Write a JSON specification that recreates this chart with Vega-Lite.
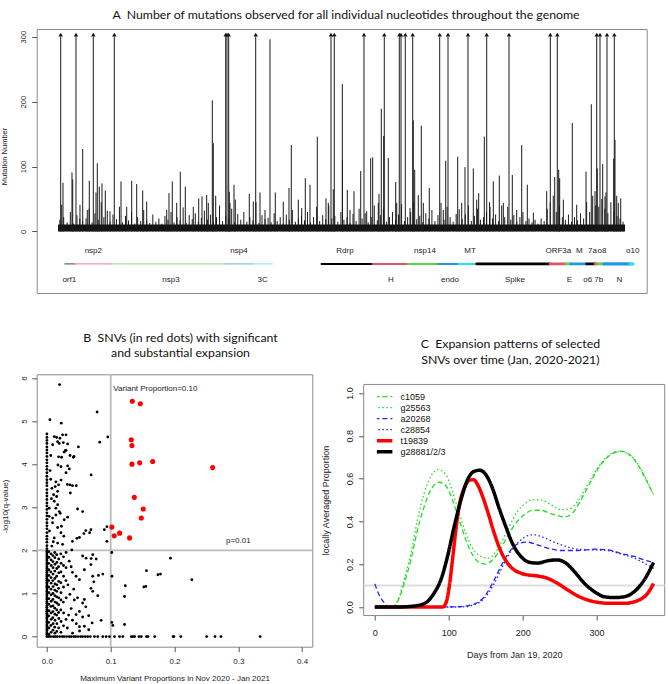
{
"$schema":"https://vega.github.io/schema/vega-lite/v6.json",
"autosize":{"type":"none"},
"padding":{"left":36.7,"top":29,"right":632.3,"bottom":655},
"background":"white",
"bounds":"flush",
"spacing":81.3,
"resolve":{"scale":{"color":"independent","strokeWidth":"independent","strokeDash":"independent"},"legend":{"color":"independent","strokeWidth":"independent","strokeDash":"independent"}},
"datasets":{
"mut":[
{"p":142,"n":300},{"p":949,"n":300},{"p":1862,"n":300},{"p":2969,"n":300},{"p":8845,"n":300},{"p":8913,"n":300},{"p":9003,"n":300},{"p":10427,"n":300},{"p":14398,"n":300},{"p":14572,"n":300},{"p":16138,"n":300},{"p":17209,"n":300},{"p":18000,"n":300},{"p":18090,"n":300},{"p":18317,"n":300},{"p":18707,"n":300},{"p":20131,"n":300},{"p":20569,"n":300},{"p":21623,"n":300},{"p":22610,"n":300},{"p":23786,"n":300},{"p":25964,"n":300},{"p":26333,"n":300},{"p":28411,"n":300},{"p":28585,"n":300},{"p":28954,"n":300},{"p":29339,"n":300},
{"p":264,"n":75},{"p":738,"n":91},{"p":775,"n":80},{"p":1303,"n":127},{"p":1651,"n":78},{"p":2073,"n":105},{"p":2178,"n":69},{"p":2321,"n":74},{"p":2495,"n":63},{"p":2004,"n":60},{"p":3323,"n":77},{"p":3887,"n":78},{"p":4151,"n":73},{"p":4467,"n":63},{"p":5854,"n":59},{"p":6028,"n":77},{"p":6450,"n":92},{"p":6714,"n":69},{"p":7421,"n":51},{"p":7595,"n":54},{"p":7842,"n":56},{"p":8138,"n":202},{"p":8191,"n":136},{"p":8317,"n":55},{"p":9034,"n":61},{"p":9282,"n":72},{"p":9351,"n":49},{"p":10089,"n":58},{"p":10653,"n":60},{"p":11181,"n":296},{"p":11460,"n":60},{"p":12304,"n":133},{"p":12183,"n":67},{"p":12674,"n":49},{"p":13043,"n":82},{"p":13290,"n":72},{"p":13675,"n":146},{"p":14134,"n":51},{"p":14519,"n":65},{"p":14994,"n":227},{"p":15004,"n":110},{"p":15258,"n":64},{"p":15611,"n":62},{"p":15965,"n":93},{"p":16492,"n":113},{"p":16597,"n":114},{"p":16930,"n":58},{"p":17051,"n":189},{"p":17177,"n":147},{"p":17420,"n":113},{"p":17810,"n":76},{"p":18738,"n":171},{"p":18812,"n":95},{"p":19002,"n":56},{"p":19160,"n":163},{"p":19582,"n":67},{"p":20447,"n":109},{"p":21080,"n":115},{"p":21465,"n":99},{"p":21903,"n":97},{"p":22187,"n":59},{"p":22483,"n":146},{"p":22958,"n":77},{"p":23274,"n":86},{"p":23960,"n":87},{"p":24456,"n":133},{"p":24751,"n":72},{"p":26196,"n":84},{"p":26459,"n":82},{"p":26407,"n":95},{"p":27124,"n":167},{"p":27847,"n":92},{"p":28126,"n":196},{"p":28442,"n":97},{"p":28727,"n":104},{"p":28901,"n":60},{"p":29307,"n":112},{"p":29376,"n":141},{"p":29677,"n":51},{"p":29466,"n":55},
{"p":195,"n":41},{"p":1160,"n":41},{"p":1545,"n":33},{"p":2742,"n":31},{"p":3623,"n":38},{"p":4678,"n":46},{"p":5733,"n":33},{"p":6260,"n":44},{"p":7136,"n":38},{"p":7927,"n":44},{"p":9071,"n":44},{"p":10301,"n":46},{"p":10917,"n":33},{"p":11882,"n":46},{"p":12853,"n":36},{"p":14256,"n":44},{"p":15400,"n":33},{"p":16280,"n":31},{"p":16893,"n":44},{"p":17863,"n":44},{"p":18565,"n":36},{"p":19266,"n":44},{"p":20321,"n":33},{"p":21291,"n":44},{"p":22082,"n":49},{"p":22784,"n":38},{"p":23486,"n":44},{"p":24192,"n":33},{"p":25070,"n":29},{"p":25774,"n":62},{"p":26650,"n":49},{"p":27356,"n":41},{"p":28321,"n":62},{"p":28849,"n":54},{"p":29550,"n":44},
{"p":100,"n":18},{"p":300,"n":22},{"p":480,"n":14},{"p":650,"n":30},{"p":820,"n":12},{"p":1000,"n":25},{"p":1150,"n":20},{"p":1300,"n":16},{"p":1480,"n":20},{"p":1640,"n":35},{"p":1800,"n":14},{"p":1950,"n":28},{"p":2120,"n":18},{"p":2280,"n":45},{"p":2420,"n":22},{"p":2600,"n":32},{"p":2750,"n":15},{"p":2900,"n":26},{"p":3080,"n":19},{"p":3240,"n":38},{"p":3400,"n":14},{"p":3560,"n":24},{"p":3720,"n":17},{"p":3880,"n":30},{"p":4050,"n":12},{"p":4200,"n":22},{"p":4360,"n":16},{"p":4520,"n":33},{"p":4680,"n":18},{"p":4840,"n":13},{"p":5000,"n":26},{"p":5160,"n":15},{"p":5320,"n":20},{"p":5480,"n":12},{"p":5640,"n":24},{"p":5800,"n":18},{"p":5960,"n":30},{"p":6120,"n":14},{"p":6280,"n":22},{"p":6440,"n":17},{"p":6600,"n":37},{"p":6760,"n":13},{"p":6920,"n":25},{"p":7080,"n":19},{"p":7240,"n":28},{"p":7400,"n":15},{"p":7560,"n":21},{"p":7720,"n":32},{"p":7880,"n":18},{"p":8040,"n":26},{"p":8200,"n":14},{"p":8360,"n":22},{"p":8520,"n":40},{"p":8680,"n":16},{"p":8840,"n":24},{"p":9000,"n":20},{"p":9160,"n":35},{"p":9320,"n":14},{"p":9480,"n":27},{"p":9640,"n":18},{"p":9800,"n":30},{"p":9960,"n":15},{"p":10120,"n":22},{"p":10280,"n":17},{"p":10440,"n":45},{"p":10600,"n":13},{"p":10760,"n":25},{"p":10920,"n":19},{"p":11080,"n":21},{"p":11240,"n":14},{"p":11400,"n":28},{"p":11560,"n":16},{"p":11720,"n":22},{"p":11880,"n":12},{"p":12040,"n":26},{"p":12200,"n":18},{"p":12360,"n":33},{"p":12520,"n":15},{"p":12680,"n":20},{"p":12840,"n":24},{"p":13000,"n":17},{"p":13160,"n":30},{"p":13320,"n":14},{"p":13480,"n":22},{"p":13640,"n":38},{"p":13800,"n":16},{"p":13960,"n":25},{"p":14120,"n":19},{"p":14280,"n":40},{"p":14440,"n":20},{"p":14600,"n":24},{"p":14760,"n":15},{"p":14920,"n":30},{"p":15080,"n":18},{"p":15240,"n":22},{"p":15400,"n":13},{"p":15560,"n":27},{"p":15720,"n":16},{"p":15880,"n":35},{"p":16040,"n":20},{"p":16200,"n":28},{"p":16360,"n":14},{"p":16520,"n":22},{"p":16680,"n":40},{"p":16840,"n":17},{"p":17000,"n":25},{"p":17160,"n":34},{"p":17320,"n":15},{"p":17480,"n":22},{"p":17640,"n":30},{"p":17800,"n":18},{"p":17960,"n":26},{"p":18120,"n":42},{"p":18280,"n":16},{"p":18440,"n":22},{"p":18600,"n":30},{"p":18760,"n":45},{"p":18920,"n":19},{"p":19080,"n":24},{"p":19240,"n":14},{"p":19400,"n":28},{"p":19560,"n":20},{"p":19720,"n":33},{"p":19880,"n":16},{"p":20040,"n":25},{"p":20200,"n":44},{"p":20360,"n":18},{"p":20520,"n":38},{"p":20680,"n":22},{"p":20840,"n":15},{"p":21000,"n":27},{"p":21160,"n":34},{"p":21320,"n":19},{"p":21480,"n":26},{"p":21640,"n":40},{"p":21800,"n":16},{"p":21960,"n":24},{"p":22120,"n":35},{"p":22280,"n":18},{"p":22440,"n":22},{"p":22600,"n":30},{"p":22760,"n":45},{"p":22920,"n":20},{"p":23080,"n":26},{"p":23240,"n":16},{"p":23400,"n":40},{"p":23560,"n":22},{"p":23720,"n":38},{"p":23880,"n":18},{"p":24040,"n":25},{"p":24200,"n":15},{"p":24360,"n":22},{"p":24520,"n":30},{"p":24680,"n":16},{"p":24840,"n":20},{"p":25000,"n":14},{"p":25160,"n":18},{"p":25320,"n":12},{"p":25480,"n":20},{"p":25640,"n":16},{"p":25800,"n":35},{"p":25960,"n":45},{"p":26120,"n":55},{"p":26280,"n":30},{"p":26440,"n":40},{"p":26600,"n":22},{"p":26760,"n":18},{"p":26920,"n":26},{"p":27080,"n":15},{"p":27240,"n":22},{"p":27400,"n":17},{"p":27560,"n":28},{"p":27720,"n":20},{"p":27880,"n":45},{"p":28040,"n":30},{"p":28200,"n":55},{"p":28360,"n":40},{"p":28520,"n":38},{"p":28680,"n":50},{"p":28840,"n":35},{"p":29000,"n":28},{"p":29160,"n":45},{"p":29320,"n":30},{"p":29480,"n":24},{"p":29640,"n":20},{"p":29800,"n":15}
],
"genes":[
{"g":"orf1","s":369,"e":897,"k":"thin"},{"g":"nsp2","s":897,"e":2832,"k":"thin"},{"g":"nsp3","s":2832,"e":8808,"k":"thin"},{"g":"nsp4","s":8808,"e":10284,"k":"thin"},{"g":"3C","s":10284,"e":11302,"k":"thin"},
{"g":"Rdrp","s":13900,"e":16597,"k":"mid"},{"g":"H","s":16597,"e":18443,"k":"mid"},{"g":"nsp14","s":18443,"e":20057,"k":"mid"},{"g":"endo","s":20057,"e":21112,"k":"mid"},{"g":"MT","s":21112,"e":21993,"k":"mid"},
{"g":"Spike","s":22080,"e":25948,"k":"thick"},{"g":"ORF3a","s":25948,"e":26776,"k":"thick"},{"g":"E","s":26776,"e":27040,"k":"thick"},{"g":"M","s":27040,"e":27884,"k":"thick"},{"g":"o6","s":27884,"e":28321,"k":"thick"},{"g":"7a","s":28321,"e":28480,"k":"thick"},{"g":"7b","s":28480,"e":28638,"k":"thick"},{"g":"o8","s":28638,"e":28796,"k":"thick"},{"g":"N","s":28796,"e":30167,"k":"thicker"},{"g":"o10","s":30167,"e":30326,"k":"thicker"}
],
"glabels":[
{"t":"nsp2","p":1862,"r":"u"},{"t":"nsp4","p":9546,"r":"u"},{"t":"Rdrp","p":15136,"r":"u"},{"t":"nsp14","p":19356,"r":"u"},{"t":"MT","p":21729,"r":"u"},{"t":"ORF3a","p":26386,"r":"u"},{"t":"M","p":27494,"r":"u"},{"t":"7a","p":28191,"r":"u"},{"t":"o8","p":28687,"r":"u"},{"t":"o10","p":30310,"r":"u"},
{"t":"orf1","p":596,"r":"l"},{"t":"nsp3","p":5960,"r":"l"},{"t":"3C","p":10796,"r":"l"},{"t":"H","p":17562,"r":"l"},{"t":"endo","p":20674,"r":"l"},{"t":"Spike","p":24102,"r":"l"},{"t":"E","p":26967,"r":"l"},{"t":"o6","p":27941,"r":"l"},{"t":"7b","p":28522,"r":"l"},{"t":"N","p":29603,"r":"l"}
],
"snvR":[
{"x":0.1339,"y":5.46},{"x":0.1465,"y":5.40},{"x":0.1323,"y":4.565},{"x":0.1333,"y":4.43},{"x":0.1333,"y":4.0},{"x":0.1454,"y":4.03},{"x":0.1658,"y":4.06},{"x":0.2598,"y":3.92},{"x":0.137,"y":3.23},{"x":0.151,"y":2.96},{"x":0.148,"y":2.75},{"x":0.1018,"y":2.54},{"x":0.1055,"y":2.34},{"x":0.1139,"y":2.40},{"x":0.1296,"y":2.29}
],
"snvB":[
{"x":0,"y":0},{"x":0,"y":0.05},{"x":0,"y":0.09},{"x":0,"y":0.14},{"x":0,"y":0.18},{"x":0,"y":0.23},{"x":0,"y":0.27},{"x":0,"y":0.32},{"x":0,"y":0.36},{"x":0,"y":0.41},{"x":0,"y":0.45},{"x":0,"y":0.5},{"x":0,"y":0.54},{"x":0,"y":0.59},{"x":0,"y":0.63},{"x":0,"y":0.68},{"x":0,"y":0.72},{"x":0,"y":0.77},{"x":0,"y":0.81},{"x":0,"y":0.86},{"x":0,"y":0.9},{"x":0,"y":0.95},{"x":0,"y":0.99},{"x":0,"y":1.04},{"x":0,"y":1.08},{"x":0,"y":1.13},{"x":0,"y":1.17},{"x":0,"y":1.22},{"x":0,"y":1.26},{"x":0,"y":1.31},{"x":0,"y":1.35},{"x":0,"y":1.4},{"x":0,"y":1.44},{"x":0,"y":1.49},{"x":0,"y":1.53},{"x":0,"y":1.58},{"x":0,"y":1.62},{"x":0,"y":1.67},{"x":0,"y":1.71},{"x":0,"y":1.76},{"x":0,"y":1.8},{"x":0,"y":1.85},{"x":0,"y":1.89},{"x":0,"y":1.94},{"x":0,"y":1.98},{"x":0,"y":2.04},{"x":0,"y":2.11},{"x":0,"y":2.19},{"x":0,"y":2.26},{"x":0,"y":2.33},{"x":0,"y":2.41},{"x":0,"y":2.5},{"x":0,"y":2.57},{"x":0,"y":2.64},{"x":0,"y":2.72},{"x":0,"y":2.8},{"x":0,"y":2.87},{"x":0,"y":2.95},{"x":0,"y":3.03},{"x":0,"y":3.1},{"x":0,"y":3.18},{"x":0,"y":3.26},{"x":0,"y":3.33},{"x":0,"y":3.41},{"x":0,"y":3.5},{"x":0,"y":3.57},{"x":0,"y":3.64},{"x":0,"y":3.72},{"x":0,"y":3.8},{"x":0,"y":3.88},{"x":0,"y":3.95},{"x":0,"y":4.03},{"x":0,"y":4.1},{"x":0,"y":4.18},{"x":0,"y":4.26},{"x":0,"y":4.33},{"x":0,"y":4.4},{"x":0,"y":4.48},{"x":0,"y":4.55},{"x":0,"y":4.62},{"x":0,"y":4.7},
{"x":0.003,"y":0.05},{"x":0.0032,"y":0.2},{"x":0.0028,"y":0.33},{"x":0.003,"y":0.48},{"x":0.0033,"y":0.6},{"x":0.0029,"y":0.75},{"x":0.003,"y":0.88},{"x":0.0031,"y":1.02},{"x":0.0028,"y":1.15},{"x":0.003,"y":1.3},{"x":0.0032,"y":1.42},{"x":0.003,"y":1.55},{"x":0.0029,"y":1.7},{"x":0.0031,"y":1.84},{"x":0.003,"y":1.97},
{"x":0.0065,"y":0.1},{"x":0.0062,"y":0.26},{"x":0.0067,"y":0.4},{"x":0.0065,"y":0.55},{"x":0.0063,"y":0.7},{"x":0.0066,"y":0.82},{"x":0.0065,"y":0.97},{"x":0.0064,"y":1.1},{"x":0.0066,"y":1.24},{"x":0.0065,"y":1.37},{"x":0.0062,"y":1.5},{"x":0.0067,"y":1.65},{"x":0.0065,"y":1.78},{"x":0.0064,"y":1.92},
{"x":0.0095,"y":0.15},{"x":0.0097,"y":0.3},{"x":0.0093,"y":0.44},{"x":0.0095,"y":0.58},{"x":0.0096,"y":0.71},{"x":0.0094,"y":0.86},{"x":0.0095,"y":1.0},{"x":0.0097,"y":1.16},{"x":0.0093,"y":1.3},{"x":0.0095,"y":1.45},{"x":0.0096,"y":1.6},{"x":0.0094,"y":1.74},{"x":0.0095,"y":1.88},
{"x":0.0125,"y":0.08},{"x":0.0123,"y":0.22},{"x":0.0127,"y":0.38},{"x":0.0125,"y":0.52},{"x":0.0124,"y":0.66},{"x":0.0126,"y":0.8},{"x":0.0125,"y":0.95},{"x":0.0123,"y":1.08},{"x":0.0127,"y":1.22},{"x":0.0125,"y":1.35},{"x":0.0124,"y":1.52},{"x":0.0126,"y":1.68},{"x":0.0125,"y":1.83},{"x":0.0123,"y":1.95},
{"x":0.0155,"y":0.12},{"x":0.0157,"y":0.3},{"x":0.0153,"y":0.5},{"x":0.0155,"y":0.62},{"x":0.0156,"y":0.78},{"x":0.0154,"y":0.92},{"x":0.0155,"y":1.05},{"x":0.0157,"y":1.2},{"x":0.0153,"y":1.4},{"x":0.0155,"y":1.58},{"x":0.0156,"y":1.72},{"x":0.0154,"y":1.9},
{"x":0.0185,"y":0.2},{"x":0.0187,"y":0.42},{"x":0.0183,"y":0.56},{"x":0.0185,"y":0.74},{"x":0.0186,"y":0.9},{"x":0.0184,"y":1.12},{"x":0.0185,"y":1.28},{"x":0.0187,"y":1.48},{"x":0.0183,"y":1.62},{"x":0.0185,"y":1.8},
{"x":0.022,"y":0.1},{"x":0.0222,"y":0.35},{"x":0.0218,"y":0.62},{"x":0.022,"y":0.85},{"x":0.0221,"y":1.02},{"x":0.0219,"y":1.25},{"x":0.022,"y":1.5},{"x":0.0222,"y":1.7},{"x":0.0218,"y":1.92},
{"x":0.026,"y":0.25},{"x":0.0262,"y":0.55},{"x":0.0258,"y":0.8},{"x":0.026,"y":1.15},{"x":0.0261,"y":1.4},{"x":0.0259,"y":1.65},{"x":0.026,"y":1.85},
{"x":0.03,"y":0.4},{"x":0.0302,"y":0.9},{"x":0.0298,"y":1.3},{"x":0.03,"y":1.6},
{"x":0.036,"y":0.98},{"x":0.043,"y":0.85},{"x":0.048,"y":0.9},{"x":0.051,"y":0.585},{"x":0.056,"y":0.455},{"x":0.0655,"y":0.486},{"x":0.0457,"y":0.51},{"x":0.04,"y":0.38},{"x":0.046,"y":0.3},{"x":0.051,"y":0.23},{"x":0.0587,"y":0.24},{"x":0.0655,"y":0.16},{"x":0.0512,"y":0.13},{"x":0.0402,"y":0.08},{"x":0.085,"y":0.377},{"x":0.0708,"y":0.317},{"x":0.1018,"y":0.33},{"x":0.1034,"y":0.26},{"x":0.1217,"y":0.28},{"x":0.0587,"y":0.86},{"x":0.056,"y":0.78},{"x":0.061,"y":0.69},{"x":0.0719,"y":1.05},{"x":0.0797,"y":0.95},{"x":0.1217,"y":0.93},{"x":0.0735,"y":1.27},{"x":0.069,"y":1.12},{"x":0.051,"y":1.32},{"x":0.04,"y":1.49},{"x":0.0457,"y":1.40},{"x":0.0718,"y":1.40},{"x":0.0876,"y":1.45},{"x":0.0808,"y":1.42},{"x":0.102,"y":1.40},{"x":0.1228,"y":1.18},{"x":0.152,"y":1.15},{"x":0.155,"y":1.165},{"x":0.069,"y":1.67},{"x":0.0587,"y":1.55},{"x":0.156,"y":1.53},{"x":0.174,"y":1.435},{"x":0.178,"y":1.45},{"x":0.2272,"y":1.32},{"x":0.0719,"y":1.90},{"x":0.0693,"y":1.81},{"x":0.0614,"y":1.82},{"x":0.0561,"y":1.87},{"x":0.0772,"y":1.80},{"x":0.1937,"y":1.82},{"x":0.1017,"y":1.95},{"x":0.035,"y":1.75},{"x":0.033,"y":1.2},{"x":0.038,"y":0.65},{"x":0.032,"y":0.2},{"x":0.03,"y":1.95},{"x":0.034,"y":0.5},{"x":0.042,"y":1.1},{"x":0.038,"y":1.62},
{"x":0.039,"y":2.01},{"x":0.0265,"y":2.33},{"x":0.0228,"y":2.56},{"x":0.094,"y":2.21},{"x":0.04,"y":2.21},{"x":0.051,"y":2.30},{"x":0.047,"y":2.28},{"x":0.058,"y":2.39},{"x":0.069,"y":2.48},{"x":0.061,"y":2.46},{"x":0.067,"y":2.41},{"x":0.094,"y":2.55},{"x":0.090,"y":2.48},{"x":0.0325,"y":2.77},{"x":0.048,"y":2.96},{"x":0.056,"y":2.90},{"x":0.036,"y":3.52},{"x":0.040,"y":3.50},{"x":0.046,"y":3.50},{"x":0.0367,"y":3.33},{"x":0.0199,"y":5.845},{"x":0.0047,"y":5.03},{"x":0.0225,"y":4.95},{"x":0.0787,"y":5.21},{"x":0.0954,"y":4.63},{"x":0.0828,"y":4.51},{"x":0.0693,"y":3.75},{"x":0.0493,"y":4.40},{"x":0.0425,"y":4.18},{"x":0.03,"y":4.32},{"x":0.027,"y":4.28},{"x":0.032,"y":3.53},
{"x":0.0115,"y":4.64},{"x":0.0152,"y":4.62},{"x":0.0204,"y":4.60},{"x":0.0246,"y":4.68},{"x":0.0299,"y":4.68},{"x":0.0168,"y":4.52},{"x":0.0194,"y":4.48},{"x":0.0257,"y":4.50},{"x":0.0325,"y":4.47},{"x":0.0183,"y":4.17},{"x":0.0231,"y":4.16},{"x":0.0288,"y":4.31},{"x":0.0362,"y":4.20},{"x":0.0415,"y":4.16},{"x":0.0173,"y":3.98},{"x":0.022,"y":3.94},{"x":0.0325,"y":3.96},{"x":0.0351,"y":3.89},{"x":0.0299,"y":3.80},{"x":0.0222,"y":3.63},{"x":0.0141,"y":3.59},{"x":0.0183,"y":3.52},{"x":0.013,"y":3.48},{"x":0.0078,"y":3.44},{"x":0.0168,"y":3.37},{"x":0.0105,"y":3.29},{"x":0.0152,"y":3.25},{"x":0.0115,"y":3.14},{"x":0.0168,"y":3.06},{"x":0.0194,"y":2.9},{"x":0.0141,"y":2.82},{"x":0.0089,"y":2.75},{"x":0.0036,"y":2.98},{"x":0.0036,"y":2.79},{"x":0.0089,"y":2.64},{"x":0.0168,"y":2.53},{"x":0.022,"y":2.41},{"x":0.0115,"y":2.29},{"x":0.0168,"y":2.17},{"x":0.0078,"y":2.10},{"x":0.0246,"y":2.14},{"x":0.0141,"y":2.98},{"x":0.0209,"y":2.86},{"x":0.0272,"y":2.71},{"x":0.006,"y":4.2},{"x":0.005,"y":3.85},{"x":0.007,"y":3.2},{"x":0.004,"y":2.45},{"x":0.009,"y":4.45},{"x":0.006,"y":3.65},{"x":0.01,"y":2.2},
{"x":0.003,"y":0},{"x":0.006,"y":0},{"x":0.01,"y":0},{"x":0.013,"y":0},{"x":0.016,"y":0},{"x":0.02,"y":0},{"x":0.024,"y":0},{"x":0.027,"y":0},{"x":0.031,"y":0},{"x":0.035,"y":0},{"x":0.038,"y":0},{"x":0.042,"y":0},{"x":0.045,"y":0},{"x":0.049,"y":0},{"x":0.053,"y":0},{"x":0.056,"y":0},{"x":0.06,"y":0},{"x":0.064,"y":0},{"x":0.068,"y":0},{"x":0.0745,"y":0},{"x":0.0797,"y":0},{"x":0.0876,"y":0},{"x":0.0929,"y":0},{"x":0.098,"y":0},{"x":0.106,"y":0},{"x":0.1139,"y":0},{"x":0.119,"y":0},{"x":0.1323,"y":0},{"x":0.1348,"y":0},{"x":0.1375,"y":0},{"x":0.1443,"y":0},{"x":0.148,"y":0},{"x":0.156,"y":0},{"x":0.1584,"y":0},{"x":0.169,"y":0},{"x":0.1978,"y":0},{"x":0.199,"y":0},{"x":0.2099,"y":0},{"x":0.2504,"y":0},{"x":0.2635,"y":0},{"x":0.2729,"y":0},{"x":0.3343,"y":0}
],
"curves":[
{"s":"c1059","d":0,"v":0},{"s":"c1059","d":15,"v":0},{"s":"c1059","d":24,"v":0.002},{"s":"c1059","d":30.7,"v":0.025},{"s":"c1059","d":39.7,"v":0.11},{"s":"c1059","d":48.7,"v":0.22},{"s":"c1059","d":57.7,"v":0.36},{"s":"c1059","d":66.8,"v":0.47},{"s":"c1059","d":75.8,"v":0.548},{"s":"c1059","d":87,"v":0.583},{"s":"c1059","d":96,"v":0.567},{"s":"c1059","d":105,"v":0.5},{"s":"c1059","d":114,"v":0.408},{"s":"c1059","d":123,"v":0.314},{"s":"c1059","d":132,"v":0.244},{"s":"c1059","d":141,"v":0.208},{"s":"c1059","d":150,"v":0.2},{"s":"c1059","d":159,"v":0.22},{"s":"c1059","d":168,"v":0.26},{"s":"c1059","d":179.5,"v":0.33},{"s":"c1059","d":190.8,"v":0.392},{"s":"c1059","d":202,"v":0.431},{"s":"c1059","d":213.4,"v":0.452},{"s":"c1059","d":224.7,"v":0.452},{"s":"c1059","d":236,"v":0.439},{"s":"c1059","d":247.2,"v":0.427},{"s":"c1059","d":256,"v":0.42},{"s":"c1059","d":267.5,"v":0.439},{"s":"c1059","d":278.8,"v":0.5},{"s":"c1059","d":292.3,"v":0.5875},{"s":"c1059","d":305.9,"v":0.666},{"s":"c1059","d":319.4,"v":0.7125},{"s":"c1059","d":333,"v":0.728},{"s":"c1059","d":344.2,"v":0.7125},{"s":"c1059","d":355.5,"v":0.666},{"s":"c1059","d":366.8,"v":0.595},{"s":"c1059","d":377,"v":0.525},
{"s":"g25563","d":0,"v":0},{"s":"g25563","d":15,"v":0},{"s":"g25563","d":26,"v":0.005},{"s":"g25563","d":33,"v":0.05},{"s":"g25563","d":39.7,"v":0.127},{"s":"g25563","d":48.7,"v":0.25},{"s":"g25563","d":57.7,"v":0.408},{"s":"g25563","d":66.8,"v":0.533},{"s":"g25563","d":75.8,"v":0.611},{"s":"g25563","d":85.7,"v":0.642},{"s":"g25563","d":96,"v":0.619},{"s":"g25563","d":105,"v":0.54},{"s":"g25563","d":114,"v":0.439},{"s":"g25563","d":123,"v":0.345},{"s":"g25563","d":132,"v":0.275},{"s":"g25563","d":143.5,"v":0.236},{"s":"g25563","d":152.5,"v":0.228},{"s":"g25563","d":161.5,"v":0.248},{"s":"g25563","d":170.5,"v":0.298},{"s":"g25563","d":181.8,"v":0.377},{"s":"g25563","d":193,"v":0.447},{"s":"g25563","d":204.4,"v":0.486},{"s":"g25563","d":215.6,"v":0.502},{"s":"g25563","d":227,"v":0.498},{"s":"g25563","d":238.2,"v":0.478},{"s":"g25563","d":251.7,"v":0.455},{"s":"g25563","d":263,"v":0.458},{"s":"g25563","d":274.3,"v":0.494},{"s":"g25563","d":287.8,"v":0.572},{"s":"g25563","d":301.4,"v":0.65},{"s":"g25563","d":315,"v":0.705},{"s":"g25563","d":330.7,"v":0.728},{"s":"g25563","d":342,"v":0.717},{"s":"g25563","d":355.5,"v":0.67},{"s":"g25563","d":366.8,"v":0.598},{"s":"g25563","d":377,"v":0.525},
{"s":"a20268","d":0,"v":0.108},{"s":"a20268","d":5.9,"v":0.056},{"s":"a20268","d":12.6,"v":0.02},{"s":"a20268","d":21.7,"v":0},{"s":"a20268","d":60,"v":0},{"s":"a20268","d":94,"v":0},{"s":"a20268","d":116.4,"v":0.002},{"s":"a20268","d":134.4,"v":0.014},{"s":"a20268","d":148,"v":0.048},{"s":"a20268","d":161.5,"v":0.127},{"s":"a20268","d":172.8,"v":0.205},{"s":"a20268","d":184,"v":0.267},{"s":"a20268","d":195.3,"v":0.298},{"s":"a20268","d":206.6,"v":0.303},{"s":"a20268","d":220,"v":0.29},{"s":"a20268","d":233.7,"v":0.275},{"s":"a20268","d":251.7,"v":0.264},{"s":"a20268","d":274.3,"v":0.264},{"s":"a20268","d":296.8,"v":0.27},{"s":"a20268","d":315,"v":0.267},{"s":"a20268","d":333,"v":0.25},{"s":"a20268","d":351,"v":0.236},{"s":"a20268","d":364.5,"v":0.22},{"s":"a20268","d":377,"v":0.208},
{"s":"c28854","d":0,"v":0},{"s":"c28854","d":60,"v":0},{"s":"c28854","d":116,"v":0},{"s":"c28854","d":134.4,"v":0.01},{"s":"c28854","d":148,"v":0.04},{"s":"c28854","d":161.5,"v":0.11},{"s":"c28854","d":172.8,"v":0.19},{"s":"c28854","d":184,"v":0.26},{"s":"c28854","d":195.3,"v":0.306},{"s":"c28854","d":206.6,"v":0.333},{"s":"c28854","d":215.6,"v":0.3375},{"s":"c28854","d":227,"v":0.327},{"s":"c28854","d":240.4,"v":0.306},{"s":"c28854","d":256.2,"v":0.286},{"s":"c28854","d":274.3,"v":0.27},{"s":"c28854","d":296.8,"v":0.267},{"s":"c28854","d":315,"v":0.264},{"s":"c28854","d":333,"v":0.248},{"s":"c28854","d":351,"v":0.228},{"s":"c28854","d":364.5,"v":0.205},{"s":"c28854","d":377,"v":0.18},
{"s":"t19839","d":0,"v":0},{"s":"t19839","d":50,"v":0},{"s":"t19839","d":91.6,"v":0},{"s":"t19839","d":96,"v":0.017},{"s":"t19839","d":100.6,"v":0.095},{"s":"t19839","d":105,"v":0.22},{"s":"t19839","d":109.6,"v":0.36},{"s":"t19839","d":114,"v":0.47},{"s":"t19839","d":121,"v":0.556},{"s":"t19839","d":127.7,"v":0.592},{"s":"t19839","d":133.5,"v":0.595},{"s":"t19839","d":139,"v":0.572},{"s":"t19839","d":145.7,"v":0.517},{"s":"t19839","d":152.5,"v":0.447},{"s":"t19839","d":161.5,"v":0.345},{"s":"t19839","d":170.5,"v":0.26},{"s":"t19839","d":179.5,"v":0.205},{"s":"t19839","d":188.6,"v":0.173},{"s":"t19839","d":197.6,"v":0.158},{"s":"t19839","d":206.6,"v":0.15},{"s":"t19839","d":220,"v":0.145},{"s":"t19839","d":233.7,"v":0.134},{"s":"t19839","d":247,"v":0.111},{"s":"t19839","d":260.7,"v":0.08},{"s":"t19839","d":274.3,"v":0.052},{"s":"t19839","d":287.8,"v":0.033},{"s":"t19839","d":301.4,"v":0.022},{"s":"t19839","d":319.4,"v":0.017},{"s":"t19839","d":337.4,"v":0.017},{"s":"t19839","d":355.5,"v":0.03},{"s":"t19839","d":369,"v":0.064},{"s":"t19839","d":377,"v":0.11},
{"s":"g28881/2/3","d":0,"v":0},{"s":"g28881/2/3","d":30,"v":0},{"s":"g28881/2/3","d":48.7,"v":0.003},{"s":"g28881/2/3","d":62,"v":0.01},{"s":"g28881/2/3","d":71,"v":0.025},{"s":"g28881/2/3","d":80,"v":0.064},{"s":"g28881/2/3","d":89.3,"v":0.127},{"s":"g28881/2/3","d":98.3,"v":0.236},{"s":"g28881/2/3","d":107.4,"v":0.377},{"s":"g28881/2/3","d":116.4,"v":0.5},{"s":"g28881/2/3","d":125.4,"v":0.595},{"s":"g28881/2/3","d":134.4,"v":0.634},{"s":"g28881/2/3","d":142,"v":0.639},{"s":"g28881/2/3","d":150,"v":0.619},{"s":"g28881/2/3","d":159,"v":0.556},{"s":"g28881/2/3","d":168,"v":0.4625},{"s":"g28881/2/3","d":177,"v":0.377},{"s":"g28881/2/3","d":186,"v":0.298},{"s":"g28881/2/3","d":197.6,"v":0.236},{"s":"g28881/2/3","d":208.9,"v":0.209},{"s":"g28881/2/3","d":220,"v":0.205},{"s":"g28881/2/3","d":233.7,"v":0.216},{"s":"g28881/2/3","d":247,"v":0.22},{"s":"g28881/2/3","d":258.5,"v":0.205},{"s":"g28881/2/3","d":269.8,"v":0.166},{"s":"g28881/2/3","d":283.3,"v":0.111},{"s":"g28881/2/3","d":296.8,"v":0.072},{"s":"g28881/2/3","d":310.4,"v":0.048},{"s":"g28881/2/3","d":324,"v":0.044},{"s":"g28881/2/3","d":337.4,"v":0.048},{"s":"g28881/2/3","d":351,"v":0.072},{"s":"g28881/2/3","d":364.5,"v":0.127},{"s":"g28881/2/3","d":377,"v":0.208}
]
},
"vconcat":[
{
"width":610,"height":264,
"title":{"text":"A\u00a0 Number of mutations observed for all individual nucleotides throughout the genome","offset":8,"dx":4.3},
"layer":[
{"data":{"values":[{"start":1,"end":29903}]},
"mark":{"type":"rule","color":"#111","strokeWidth":7},
"encoding":{"x":{"field":"start","type":"quantitative","scale":{"domain":[-1123,31048],"nice":false,"zero":false},"axis":null},"x2":{"field":"end"},"y":{"datum":5.4,"type":"quantitative","scale":{"domain":[-94.8,311.8],"nice":false,"zero":false}}}},
{"data":{"name":"mut"},
"mark":{"type":"rule","color":"#1a1a1a","strokeWidth":1},
"encoding":{"x":{"field":"p","type":"quantitative","scale":{"domain":[-1123,31048],"nice":false,"zero":false},"axis":null},
"y":{"field":"n","type":"quantitative","scale":{"domain":[-94.8,311.8],"nice":false,"zero":false},
"axis":{"values":[0,100,200,300],"title":"Mutation Number","labelAngle":-90,"labelAlign":"center","labelBaseline":"bottom","labelPadding":4,"labelFontSize":7.5,"titleFontSize":7.5,"titleX":-32.2,"titleY":127,"titleAngle":-90,"titleAlign":"center","titleBaseline":"middle","tickSize":5}},
"y2":{"datum":0}}},
{"data":{"name":"mut"},
"transform":[{"filter":"datum.n >= 300"}],
"mark":{"type":"point","shape":"triangle-up","filled":true,"color":"#111","size":20,"opacity":1,"yOffset":-2},
"encoding":{"x":{"field":"p","type":"quantitative","scale":{"domain":[-1123,31048],"nice":false,"zero":false},"axis":null},"y":{"field":"n","type":"quantitative","scale":{"domain":[-94.8,311.8],"nice":false,"zero":false}}}},
{"data":{"name":"genes"},
"mark":{"type":"rule","strokeCap":"round"},
"encoding":{"x":{"field":"s","type":"quantitative","scale":{"domain":[-1123,31048],"nice":false,"zero":false},"axis":null},"x2":{"field":"e"},
"y":{"datum":-50,"type":"quantitative","scale":{"domain":[-94.8,311.8],"nice":false,"zero":false}},
"color":{"field":"g","type":"nominal","scale":{"domain":["orf1","nsp2","nsp3","nsp4","3C","Rdrp","H","nsp14","endo","MT","Spike","ORF3a","E","M","o6","7a","7b","o8","N","o10"],"range":["#666666","#EE98A8","#A5E39A","#8CBDEE","#9AEDEF","#000000","#DF536B","#61D04F","#2297E6","#28E2E5","#000000","#DF536B","#61D04F","#2297E6","#000000","#DF536B","#61D04F","#61D04F","#2297E6","#28E2E5"]},"legend":null},
"strokeWidth":{"field":"k","type":"ordinal","scale":{"domain":["thin","mid","thick","thicker"],"range":[1.4,3.3,5,6]},"legend":null}}},
{"data":{"name":"glabels"},
"transform":[{"filter":"datum.r == 'u'"}],
"mark":{"type":"text","fontSize":8,"font":"Liberation Sans","color":"#222","baseline":"middle","align":"center"},
"encoding":{"x":{"field":"p","type":"quantitative","scale":{"domain":[-1123,31048],"nice":false,"zero":false},"axis":null},"y":{"datum":-30,"type":"quantitative","scale":{"domain":[-94.8,311.8],"nice":false,"zero":false}},"text":{"field":"t"}}},
{"data":{"name":"glabels"},
"transform":[{"filter":"datum.r == 'l'"}],
"mark":{"type":"text","fontSize":8,"font":"Liberation Sans","color":"#222","baseline":"middle","align":"center"},
"encoding":{"x":{"field":"p","type":"quantitative","scale":{"domain":[-1123,31048],"nice":false,"zero":false},"axis":null},"y":{"datum":-75,"type":"quantitative","scale":{"domain":[-94.8,311.8],"nice":false,"zero":false}},"text":{"field":"t"}}}
]
},
{
"resolve":{"scale":{"color":"independent","strokeWidth":"independent","strokeDash":"independent"},"legend":{"color":"independent","strokeWidth":"independent","strokeDash":"independent"}},
"hconcat":[
{
"width":275.6,"height":272.4,
"title":{"text":["B\u00a0 SNVs (in red dots) with significant","and substantial expansion"],"offset":14,"dx":6,"lineHeight":15.6},
"layer":[
{"data":{"values":[{}]},
"mark":{"type":"rule","color":"#BBBBBB","strokeWidth":1.8},
"encoding":{"x":{"datum":0.1,"type":"quantitative","scale":{"domain":[-0.016,0.416],"nice":false,"zero":false}}}},
{"data":{"values":[{}]},
"mark":{"type":"rule","color":"#BBBBBB","strokeWidth":1.8},
"encoding":{"y":{"datum":2,"type":"quantitative","scale":{"domain":[-0.234,6.084],"nice":false,"zero":false}}}},
{"data":{"name":"snvB"},
"mark":{"type":"circle","color":"#000000","size":8,"opacity":1},
"encoding":{"x":{"field":"x","type":"quantitative","scale":{"domain":[-0.016,0.416],"nice":false,"zero":false},
"axis":{"values":[0,0.1,0.2,0.3,0.4],"format":".1f","title":"Maximum Variant Proportions in Nov 2020 - Jan 2021","labelFontSize":8,"titleFontSize":8,"labelPadding":6,"titleY":32.3,"titleBaseline":"middle","tickSize":5}},
"y":{"field":"y","type":"quantitative","scale":{"domain":[-0.234,6.084],"nice":false,"zero":false},
"axis":{"values":[0,1,2,3,4,5,6],"title":"-log10(q-value)","labelAngle":-90,"labelAlign":"center","labelBaseline":"bottom","labelPadding":3,"labelFontSize":8,"titleFontSize":8,"titleX":-31.7,"titleY":131.7,"titleAngle":-90,"titleAlign":"center","titleBaseline":"middle","tickSize":5}}}},
{"data":{"name":"snvR"},
"mark":{"type":"circle","color":"#FF0000","size":26,"opacity":1},
"encoding":{"x":{"field":"x","type":"quantitative","scale":{"domain":[-0.016,0.416],"nice":false,"zero":false}},"y":{"field":"y","type":"quantitative","scale":{"domain":[-0.234,6.084],"nice":false,"zero":false}}}},
{"data":{"values":[{}]},
"mark":{"type":"text","text":"Variant Proportion=0.10","align":"left","baseline":"middle","dx":2.6,"fontSize":8,"color":"#222"},
"encoding":{"x":{"datum":0.1,"type":"quantitative","scale":{"domain":[-0.016,0.416],"nice":false,"zero":false}},"y":{"datum":5.745,"type":"quantitative","scale":{"domain":[-0.234,6.084],"nice":false,"zero":false}}}},
{"data":{"values":[{}]},
"mark":{"type":"text","text":"p=0.01","align":"center","baseline":"middle","fontSize":8,"color":"#222"},
"encoding":{"x":{"datum":0.3,"type":"quantitative","scale":{"domain":[-0.016,0.416],"nice":false,"zero":false}},"y":{"datum":2.21,"type":"quantitative","scale":{"domain":[-0.234,6.084],"nice":false,"zero":false}}}}
]
},
{
"width":301,"height":240.7,
"view":{"stroke":null},
"title":{"text":["C\u00a0 Expansion patterns of selected","SNVs over time (Jan, 2020-2021)"],"offset":8,"dx":-3.8,"lineHeight":16},
"layer":[
{"data":{"values":[{}]},
"mark":{"type":"rect","filled":false,"stroke":"#8a8a8a","strokeWidth":1},
"encoding":{"x":{"datum":-15.08,"type":"quantitative","scale":{"domain":[-15.08,392.08],"nice":false,"zero":false}},"x2":{"datum":392.08},"y":{"datum":-0.04,"type":"quantitative","scale":{"domain":[-0.0374,1.0874],"nice":false,"zero":false}},"y2":{"datum":1.04}}},
{"data":{"values":[{}]},
"mark":{"type":"rule","color":"#DDDDDD","strokeWidth":2},
"encoding":{"y":{"datum":0.1,"type":"quantitative","scale":{"domain":[-0.0374,1.0874],"nice":false,"zero":false}}}},
{"data":{"name":"curves"},
"mark":{"type":"line","interpolate":"monotone"},
"encoding":{
"x":{"field":"d","type":"quantitative","scale":{"domain":[-15.08,392.08],"nice":false,"zero":false},
"axis":{"values":[0,100,200,300],"title":"Days from Jan 19, 2020","labelFontSize":9,"titleFontSize":9,"labelPadding":8,"titleY":39,"titleBaseline":"middle","tickSize":5}},
"y":{"field":"v","type":"quantitative","scale":{"domain":[-0.0374,1.0874],"nice":false,"zero":false},
"axis":{"values":[0,0.2,0.4,0.6,0.8,1],"format":".1f","title":"locally Averaged Proportion","labelAngle":-90,"labelAlign":"center","labelBaseline":"bottom","labelPadding":4,"labelFontSize":9,"titleFontSize":9,"titleX":-38.3,"titleY":125.7,"titleAngle":-90,"titleAlign":"center","titleBaseline":"middle","tickSize":5}},
"color":{"field":"s","type":"nominal","scale":{"domain":["c1059","g25563","a20268","c28854","t19839","g28881/2/3"],"range":["#22DD22","#22DD22","#2222FF","#2222FF","#FF0000","#000000"]},
"legend":{"orient":"none","legendX":13.2,"legendY":16.9,"title":null,"symbolType":"M-2,0L2,0","symbolSize":81,"labelFontSize":9,"labelOffset":10.5,"rowPadding":0,"clipHeight":11,"padding":0,"labelColor":"#111","labelFont":"Liberation Sans"}},
"strokeDash":{"field":"s","type":"nominal","scale":{"domain":["c1059","g25563","a20268","c28854","t19839","g28881/2/3"],"range":[[5,3],[1.5,2.5],[5,3],[1.5,2.5],[1,0],[1,0]]},
"legend":{"orient":"none","legendX":13.2,"legendY":16.9,"title":null,"symbolType":"M-2,0L2,0","symbolSize":81,"labelFontSize":9,"labelOffset":10.5,"rowPadding":0,"clipHeight":11,"padding":0,"labelColor":"#111","labelFont":"Liberation Sans"}},
"strokeWidth":{"field":"s","type":"ordinal","scale":{"type":"ordinal","domain":["c1059","g25563","a20268","c28854","t19839","g28881/2/3"],"range":[1.3,1.3,1.3,1.3,3.5,3.5]},
"legend":{"orient":"none","legendX":13.2,"legendY":16.9,"title":null,"symbolType":"M-2,0L2,0","symbolSize":81,"labelFontSize":9,"labelOffset":10.5,"rowPadding":0,"clipHeight":11,"padding":0,"labelColor":"#111","labelFont":"Liberation Sans"}}
}}
]
}
],
"spacing":51,
"bounds":"flush"
}
],
"config":{
"font":"Liberation Sans",
"view":{"stroke":"#8a8a8a","strokeWidth":1},
"axis":{"grid":false,"domain":false,"tickColor":"#555555","tickSize":5,"labelColor":"#222222","titleColor":"#222222","titleFontWeight":"normal","labelFlush":false,"labelOverlap":false,"labelFont":"Liberation Sans","titleFont":"Liberation Sans"},
"title":{"font":"Lato","fontSize":12.3,"fontWeight":"normal","color":"#111111","anchor":"middle","frame":"group","baseline":"bottom"},
"legend":{"padding":0}
}
}
